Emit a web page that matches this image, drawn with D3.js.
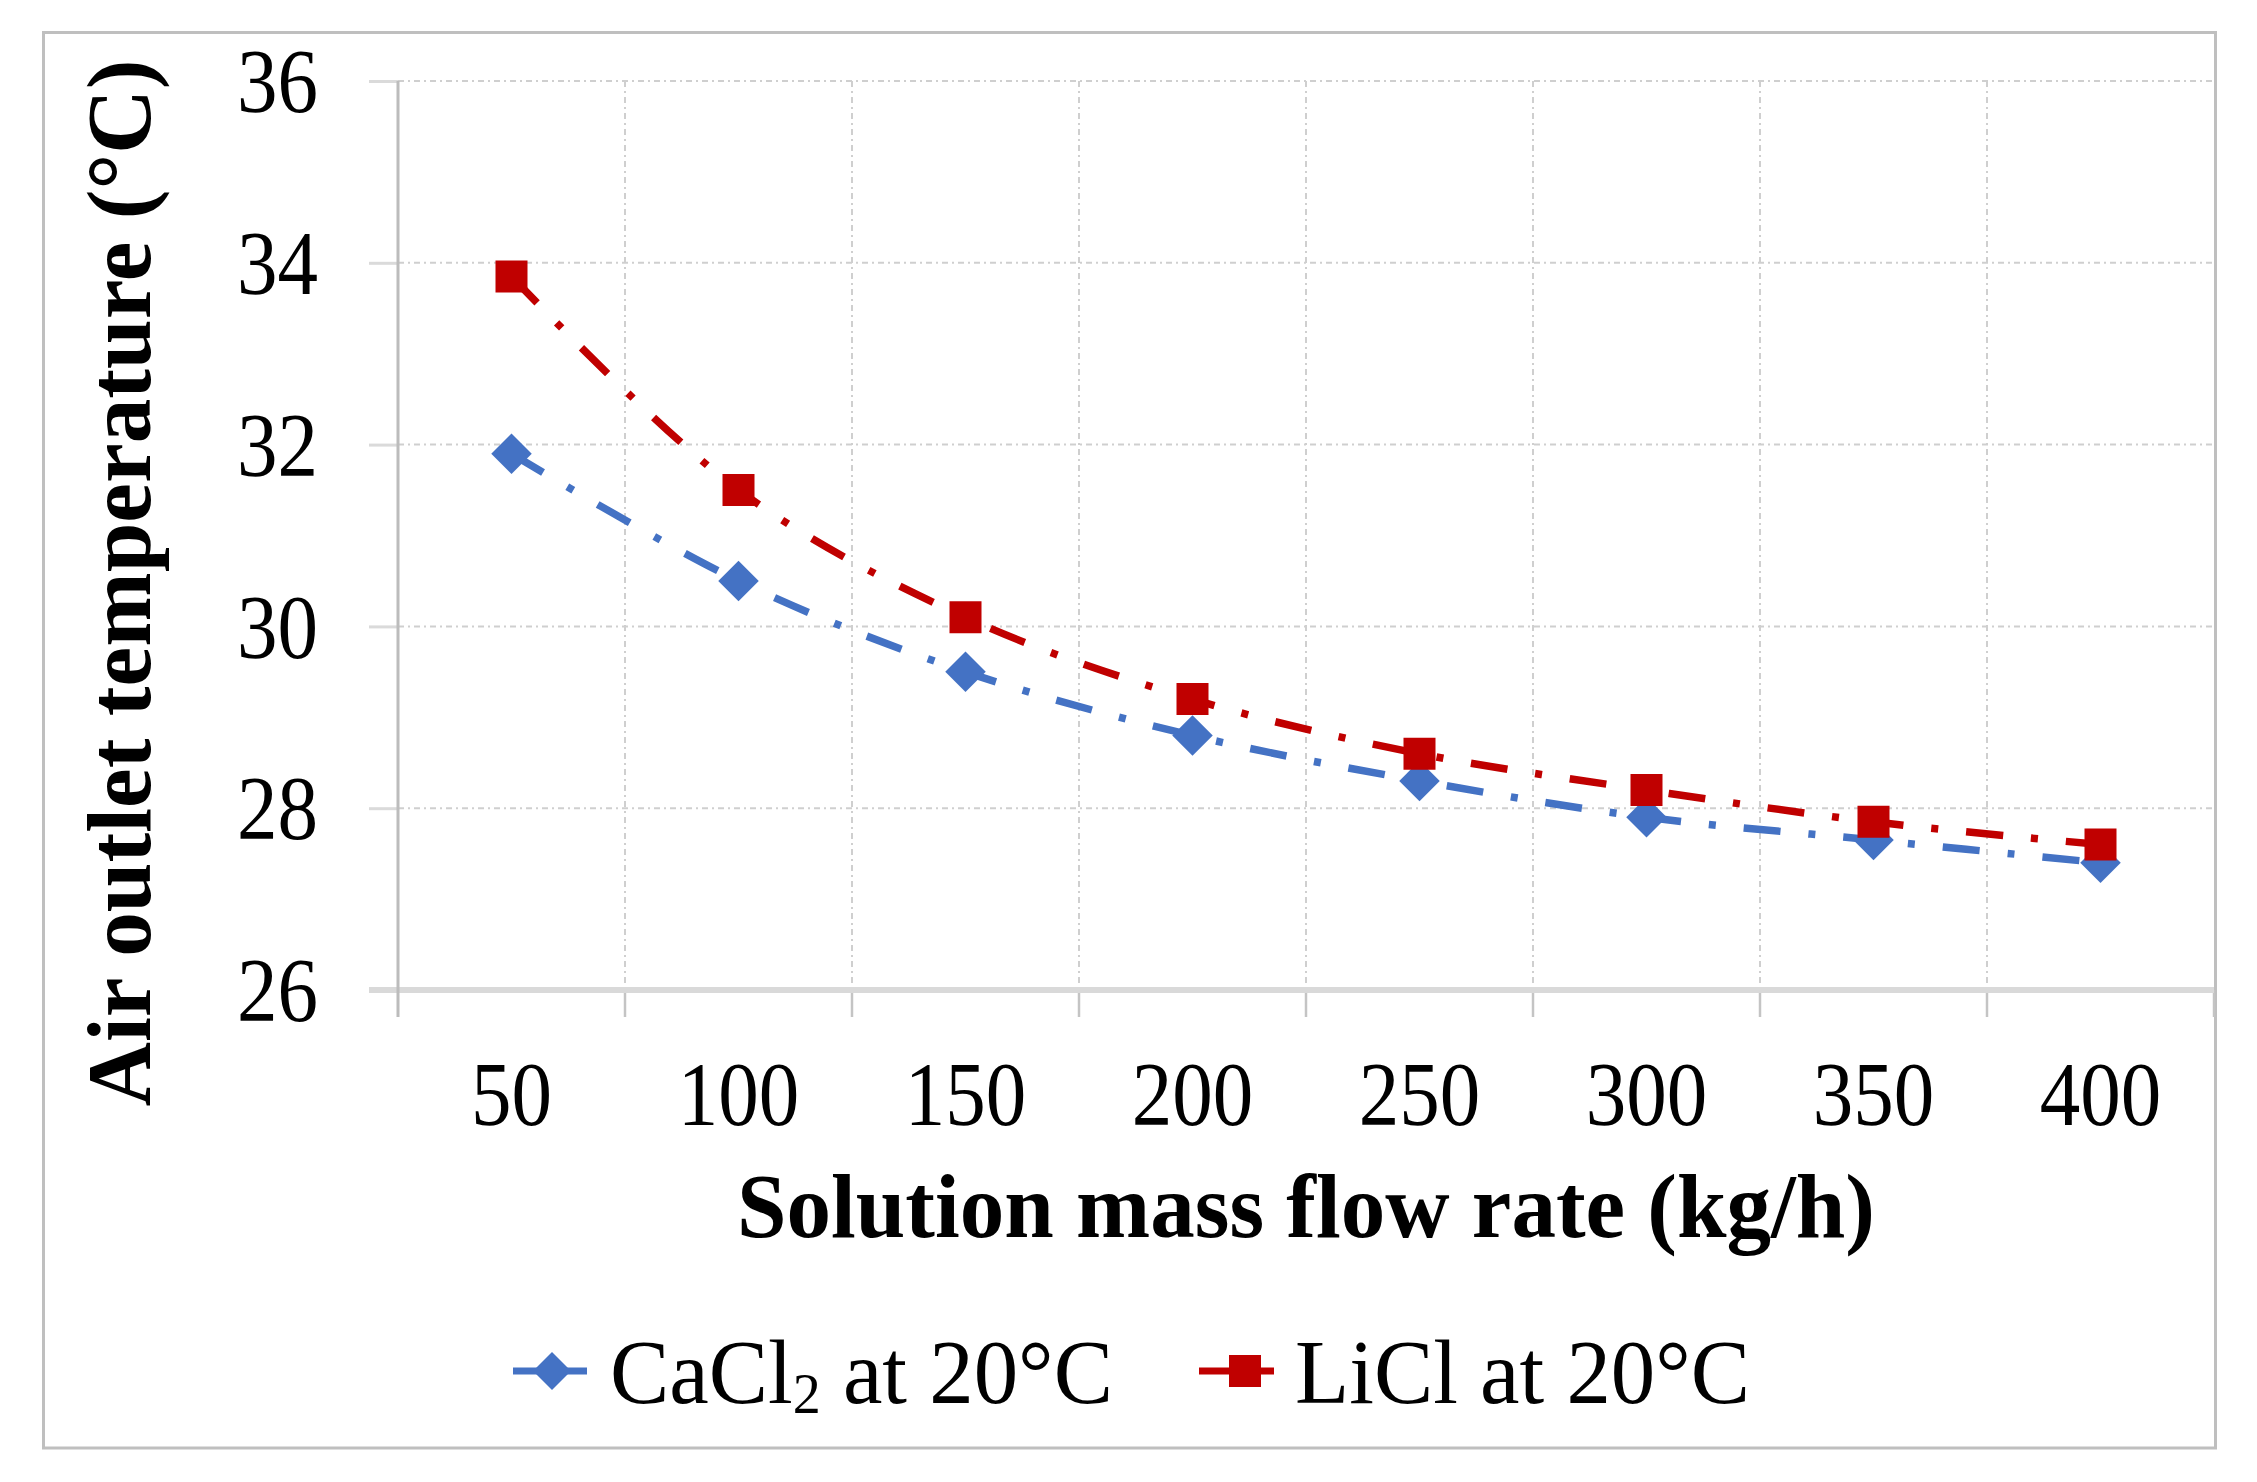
<!DOCTYPE html>
<html>
<head>
<meta charset="utf-8">
<script src="https://cdn.jsdelivr.net/npm/d3@7"></script>
<style>
  body { margin: 0; background: #fff; }
  svg { display: block; }
</style>
</head>
<body>
<script>
// values
const flowRates = [50, 100, 150, 200, 250, 300, 350, 400];
const cacl2Temp = [31.9, 30.5, 29.5, 28.8, 28.3, 27.9, 27.65, 27.4];
const liclTemp  = [33.85, 31.5, 30.1, 29.2, 28.6, 28.2, 27.85, 27.6];
const yTicks = [26, 28, 30, 32, 34, 36];
const seriesNames = ["CaCl", "LiCl at 20°C"];

const W = 2257, H = 1482;
const plot = {left: 398, right: 2214, top: 81, bottom: 990};
const FONT = "'Liberation Serif', 'Times New Roman', serif";

const svg = d3.select("body").append("svg")
    .attr("width", W)
    .attr("height", H);

svg.append("rect")
    .attr("x", 43.5).attr("y", 32.5)
    .attr("width", 2215.5 - 43.5).attr("height", 1448 - 32.5)
    .attr("fill", "#fff")
    .attr("stroke", "#bfbfbf")
    .attr("stroke-width", 3);

const x = d3.scaleBand()
    .domain(flowRates)
    .range([plot.left, plot.right])
    .padding(0);

const y = d3.scaleLinear()
    .domain([26, 36])
    .range([plot.bottom, plot.top]);

const cx = d => x(d) + x.bandwidth() / 2;

// horizontal gridlines
svg.append("g")
    .selectAll("line")
    .data(yTicks.filter(t => t !== 26))
    .enter().append("line")
    .attr("x1", plot.left).attr("x2", plot.right)
    .attr("y1", d => y(d)).attr("y2", d => y(d))
    .attr("stroke", "#cfcfcf")
    .attr("stroke-width", 2)
    .attr("stroke-dasharray", "6,4,2,4");

// vertical gridlines at category boundaries
const bounds = flowRates.map(d => x(d) + x.bandwidth()).slice(0, -1);
svg.append("g")
    .selectAll("line")
    .data(bounds)
    .enter().append("line")
    .attr("x1", d => d).attr("x2", d => d)
    .attr("y1", plot.top).attr("y2", plot.bottom)
    .attr("stroke", "#cfcfcf")
    .attr("stroke-width", 2)
    .attr("stroke-dasharray", "6,4,2,4");

// tick marks below the category axis
svg.append("g")
    .selectAll("line")
    .data(bounds.concat([plot.right]))
    .enter().append("line")
    .attr("x1", d => d).attr("x2", d => d)
    .attr("y1", plot.bottom).attr("y2", plot.bottom + 27)
    .attr("stroke", "#c4c4c4")
    .attr("stroke-width", 2.5);

// y axis with labels
const yAxis = svg.append("g")
    .attr("transform", "translate(" + plot.left + ",0)")
    .call(d3.axisLeft(y).tickValues(yTicks).tickSize(29).tickPadding(51).tickFormat(d3.format("d")));
yAxis.select(".domain").remove();
yAxis.selectAll(".tick line")
    .attr("stroke", "#dadada")
    .attr("stroke-width", 3);
yAxis.selectAll(".tick text")
    .attr("font-family", FONT)
    .attr("font-size", "90px")
    .attr("fill", "#000")
    .attr("dy", "0.34em");

// x axis line (26) and the y axis line
svg.append("line")
    .attr("x1", plot.left - 29).attr("x2", plot.right)
    .attr("y1", plot.bottom).attr("y2", plot.bottom)
    .attr("stroke", "#d9d9d9")
    .attr("stroke-width", 6);
svg.append("line")
    .attr("x1", plot.left).attr("x2", plot.left)
    .attr("y1", plot.top).attr("y2", plot.bottom + 27)
    .attr("stroke", "#bcbcbc")
    .attr("stroke-width", 3);

// x labels
const xAxis = svg.append("g")
    .attr("transform", "translate(0," + plot.bottom + ")")
    .call(d3.axisBottom(x).tickSize(0).tickPadding(71));
xAxis.select(".domain").remove();
xAxis.selectAll(".tick text")
    .attr("font-family", FONT)
    .attr("font-size", "90px")
    .attr("fill", "#000");

// condense tick labels like the original Times rendering
svg.selectAll(".tick text").each(function() {
    const len = this.getComputedTextLength();
    d3.select(this).attr("textLength", len * 0.9).attr("lengthAdjust", "spacingAndGlyphs");
});

// series
const line = d3.line()
    .x(d => cx(d[0]))
    .y(d => y(d[1]))
    .curve(d3.curveCatmullRom.alpha(0.5));

const series = [
    {values: d3.zip(flowRates, cacl2Temp), color: "#4472c4", shape: "diamond"},
    {values: d3.zip(flowRates, liclTemp),  color: "#c00000", shape: "square"}
];

const diamond = d3.symbol(d3.symbolSquare, 820)();
const square = d3.symbol(d3.symbolSquare, 1024)();

series.forEach(s => {
    svg.append("path")
        .datum(s.values)
        .attr("d", line)
        .attr("fill", "none")
        .attr("stroke", s.color)
        .attr("stroke-width", 7.5)
        .attr("stroke-dasharray", "37,28,7,28");
    svg.append("g")
        .selectAll("path")
        .data(s.values)
        .enter().append("path")
        .attr("d", s.shape === "diamond" ? diamond : square)
        .attr("transform", d => "translate(" + cx(d[0]) + "," + y(d[1]) + ")" + (s.shape === "diamond" ? " rotate(45)" : ""))
        .attr("fill", s.color);
});

// axis titles
svg.append("text")
    .attr("x", (plot.left + plot.right) / 2)
    .attr("y", 1237)
    .attr("text-anchor", "middle")
    .attr("font-family", FONT)
    .attr("font-weight", "bold")
    .attr("font-size", "92px")
    .attr("textLength", 1138)
    .attr("lengthAdjust", "spacingAndGlyphs")
    .text("Solution mass flow rate (kg/h)");

svg.append("text")
    .attr("transform", "translate(150,583) rotate(-90)")
    .attr("text-anchor", "middle")
    .attr("font-family", FONT)
    .attr("font-weight", "bold")
    .attr("font-size", "92px")
    .attr("textLength", 1047)
    .attr("lengthAdjust", "spacingAndGlyphs")
    .text("Air outlet temperature (°C)");

// legend
const legY = 1371;
const leg1 = svg.append("g");
leg1.append("line")
    .attr("x1", 513).attr("x2", 587).attr("y1", legY).attr("y2", legY)
    .attr("stroke", series[0].color).attr("stroke-width", 7);
leg1.append("path")
    .attr("d", d3.symbol(d3.symbolSquare, 722)())
    .attr("transform", "translate(552," + legY + ") rotate(45)")
    .attr("fill", series[0].color);
const t1 = leg1.append("text")
    .attr("x", 0).attr("y", 0)
    .attr("font-family", FONT)
    .attr("font-size", "92px");
t1.append("tspan").text(seriesNames[0]);
t1.append("tspan").attr("font-size", "58px").attr("dy", 10).text("2");
t1.append("tspan").attr("dy", -10).text(" at 20°C");
const w1 = t1.node().getComputedTextLength();
t1.attr("transform", "translate(610,1403) scale(" + (503 / w1) + ",1)");

const leg2 = svg.append("g");
leg2.append("line")
    .attr("x1", 1199).attr("x2", 1274).attr("y1", legY).attr("y2", legY)
    .attr("stroke", series[1].color).attr("stroke-width", 7);
leg2.append("path")
    .attr("d", d3.symbol(d3.symbolSquare, 1024)())
    .attr("transform", "translate(1245," + legY + ")")
    .attr("fill", series[1].color);
leg2.append("text")
    .attr("x", 1295).attr("y", 1403)
    .attr("font-family", FONT)
    .attr("font-size", "92px")
    .attr("textLength", 455)
    .attr("lengthAdjust", "spacingAndGlyphs")
    .text(seriesNames[1]);
</script>
</body>
</html>
